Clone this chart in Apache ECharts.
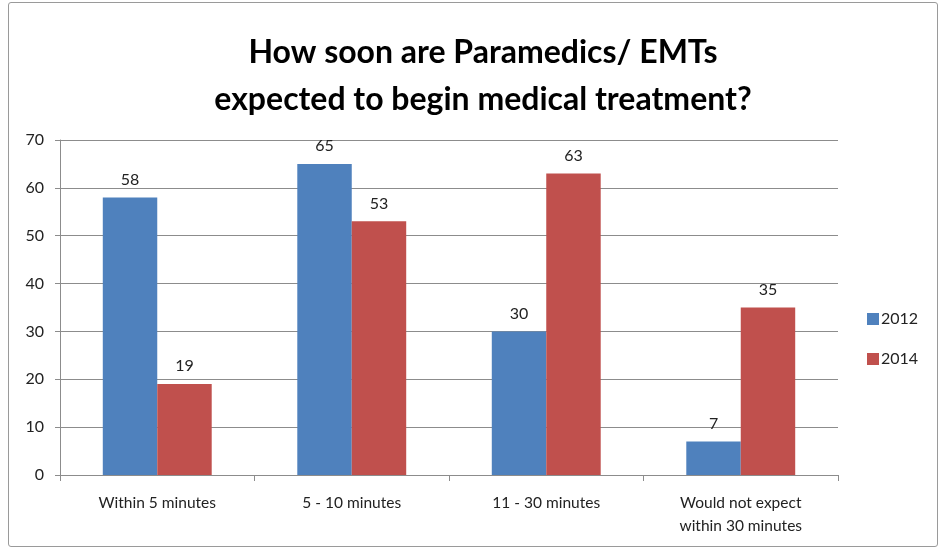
<!DOCTYPE html>
<html>
<head>
<meta charset="utf-8">
<script src="https://cdn.jsdelivr.net/npm/echarts@6/dist/echarts.min.js"></script>
<style>
  html, body { margin: 0; padding: 0; background: #fff; }
  #frame {
    position: absolute; left: 8px; top: 2px; width: 930px; height: 545px;
    border: 1px solid #9a9a9a; border-radius: 3px; box-sizing: border-box;
  }
  #chart { position: absolute; left: 0; top: 0; width: 941px; height: 550px; }
</style>
</head>
<body>
<div id="frame"></div>
<div id="chart"></div>
<script>
// categories and values
var categories = ['Within 5 minutes', '5 - 10 minutes', '11 - 30 minutes', 'Would not expect\nwithin 30 minutes'];
var values2012 = [58, 65, 30, 7];
var values2014 = [19, 53, 63, 35];
var seriesNames = ['2012', '2014'];

var fontFam = 'Lato, "Open Sans", sans-serif';

var myChart = echarts.init(document.getElementById('chart'));
myChart.setOption({
  animation: false,
  title: {
    text: 'How soon are Paramedics/ EMTs\nexpected to begin medical treatment?',
    left: 478,
    textAlign: 'center',
    top: 24,
    textStyle: {
      fontFamily: fontFam,
      fontSize: 32,
      fontWeight: 'bold',
      color: '#000',
      lineHeight: 47
    }
  },
  legend: {
    orient: 'vertical',
    left: 862,
    top: 306,
    itemWidth: 12,
    itemHeight: 12,
    itemGap: 24,
    icon: 'rect',
    textStyle: { fontFamily: fontFam, fontSize: 16, color: '#222', padding: [0, 0, 0, -3] },
    data: seriesNames
  },
  grid: {
    left: 60,
    right: 103,
    top: 140,
    bottom: 75
  },
  xAxis: {
    type: 'category',
    data: categories,
    axisLine: { lineStyle: { color: '#8c8c8c', width: 1 } },
    axisTick: { show: true, length: 6, lineStyle: { color: '#8c8c8c' } },
    axisLabel: {
      fontFamily: fontFam, fontSize: 15.5, color: '#222',
      margin: 16, lineHeight: 23, interval: 0
    }
  },
  yAxis: {
    type: 'value',
    min: 0,
    max: 70,
    interval: 10,
    axisLine: { show: true, lineStyle: { color: '#8c8c8c', width: 1 } },
    axisTick: { show: true, length: 5, lineStyle: { color: '#8c8c8c' } },
    splitLine: { lineStyle: { color: '#8c8c8c', width: 1 } },
    axisLabel: { fontFamily: fontFam, fontSize: 16, color: '#222', margin: 16 }
  },
  series: [
    {
      name: seriesNames[0],
      type: 'bar',
      data: values2012,
      barCategoryGap: '44%',
      barGap: '0%',
      itemStyle: { color: '#4f81bd' },
      label: { show: true, position: 'top', distance: 10, fontFamily: fontFam, fontSize: 16, color: '#222' }
    },
    {
      name: seriesNames[1],
      type: 'bar',
      data: values2014,
      barCategoryGap: '44%',
      barGap: '0%',
      itemStyle: { color: '#c0504d' },
      label: { show: true, position: 'top', distance: 10, fontFamily: fontFam, fontSize: 16, color: '#222' }
    }
  ]
});
</script>
</body>
</html>
